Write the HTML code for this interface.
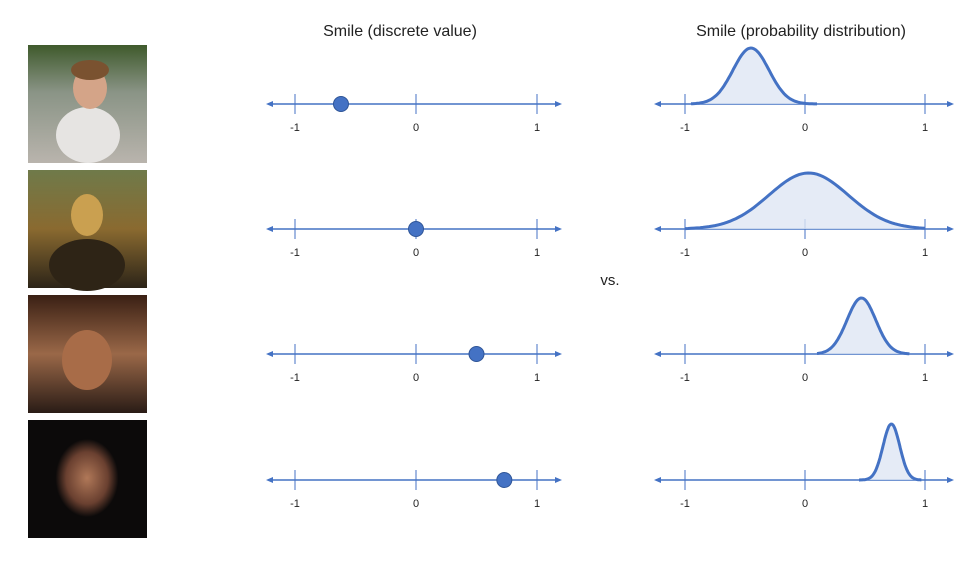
<!DOCTYPE html>
<html><head><meta charset="utf-8"><style>
body{margin:0;background:#fff;width:964px;height:557px;overflow:hidden;font-family:"Liberation Sans",sans-serif}
</style></head><body>
<svg id="s" width="964" height="557" xmlns="http://www.w3.org/2000/svg">
<defs>
<linearGradient id="p1" x1="0" y1="0" x2="0" y2="1"><stop offset="0" stop-color="#3f5a2c"/><stop offset="0.4" stop-color="#8a9486"/><stop offset="1" stop-color="#b9b4ad"/></linearGradient>
<linearGradient id="p2" x1="0" y1="0" x2="0" y2="1"><stop offset="0" stop-color="#6f7a4a"/><stop offset="0.5" stop-color="#8a6a30"/><stop offset="1" stop-color="#2c2418"/></linearGradient>
<linearGradient id="p3" x1="0" y1="0" x2="0" y2="1"><stop offset="0" stop-color="#3a2014"/><stop offset="0.5" stop-color="#9a6848"/><stop offset="1" stop-color="#2a1c16"/></linearGradient>
<radialGradient id="p4"><stop offset="0" stop-color="#b07858"/><stop offset="0.5" stop-color="#6a4030"/><stop offset="0.75" stop-color="#0c0a0a"/></radialGradient>
</defs>
<g>
<rect x="28" y="45" width="119" height="118" fill="url(#p1)"/>
<ellipse cx="88" cy="135" rx="32" ry="28" fill="#e6e4e2"/><ellipse cx="90" cy="88" rx="17" ry="21" fill="#d4a488"/><ellipse cx="90" cy="70" rx="19" ry="10" fill="#7a5230"/>
<rect x="28" y="170" width="119" height="118" fill="url(#p2)"/>
<ellipse cx="87" cy="215" rx="16" ry="21" fill="#caa050"/><ellipse cx="87" cy="265" rx="38" ry="26" fill="#2e2416"/>
<rect x="28" y="295" width="119" height="118" fill="url(#p3)"/>
<ellipse cx="87" cy="360" rx="25" ry="30" fill="#a86c48"/>
<rect x="28" y="420" width="119" height="118" fill="#0c0a0a"/>
<ellipse cx="87" cy="478" rx="42" ry="52" fill="url(#p4)"/>
</g>
<text x="400" y="36" font-size="16" text-anchor="middle" fill="#222">Smile (discrete value)</text>
<text x="801" y="36" font-size="16" text-anchor="middle" fill="#222">Smile (probability distribution)</text>
<text x="610" y="285" font-size="15" text-anchor="middle" fill="#222">vs.</text>
<g id="g"></g>
</svg>
<script>
const rowAxisY=[104,229,354,480];
const discreteValues=[-0.62,0,0.5,0.73];
const distMeans=[-0.45,0.03,0.47,0.72];
const distSds=[0.15,0.33,0.12,0.07];
const distRangeLo=[-0.95,-1,0.1,0.45];
const distRangeHi=[0.1,1,0.87,0.97];
const tickLabels=["-1","0","1"];
const tickValues=[-1,0,1];
const C="#4472C4",NS="http://www.w3.org/2000/svg",g=document.getElementById('g');
const xL=v=>416+v*121, xR=v=>805+v*120;
function mk(t,a){const e=document.createElementNS(NS,t);for(const k in a)e.setAttribute(k,a[k]);g.appendChild(e);return e;}
function axis(x,y,x0,x1,pre){
  let e=mk('line',{x1:x0,y1:y,x2:x1,y2:y,stroke:C,'stroke-width':1.5});
  
  e=mk('path',{d:`M${x0-4},${y} L${x0+3},${y-3} L${x0+3},${y+3}Z`,fill:C});
  
  e=mk('path',{d:`M${x1+4},${y} L${x1-3},${y-3} L${x1-3},${y+3}Z`,fill:C});
  
  tickValues.forEach((v,i)=>{
    e=mk('line',{x1:x(v),y1:y-10,x2:x(v),y2:y+10,stroke:C,'stroke-width':1});
    
    e=mk('text',{x:x(v),y:y+27,'font-size':11,'text-anchor':'middle',fill:'#222'});
    e.textContent=tickLabels[i];
    
  });
}
rowAxisY.forEach((y,r)=>{
  axis(xL,y,270,558,'discrete-row'+(r+1));
  let d=mk('circle',{cx:xL(discreteValues[r]),cy:y,r:7.5,fill:C,stroke:'#2f5597','stroke-width':1});
  
  axis(xR,y,658,950,'dist-row'+(r+1));
  const H=56,pts=[];
  for(let i=0;i<=80;i++){const v=distRangeLo[r]+(distRangeHi[r]-distRangeLo[r])*i/80;
    const z=(v-distMeans[r])/distSds[r];pts.push([xR(v),y-H*Math.exp(-z*z/2)]);}
  const line=pts.map((p,i)=>(i?'L':'M')+p[0].toFixed(1)+','+p[1].toFixed(1)).join(' ');
  let f=mk('path',{d:line+` L${pts[pts.length-1][0]},${y} L${pts[0][0]},${y}Z`,fill:'#dfe6f4',opacity:0.8});
  
  let c=mk('path',{d:line,fill:'none',stroke:C,'stroke-width':3});
  
});
</script>
</body></html>
